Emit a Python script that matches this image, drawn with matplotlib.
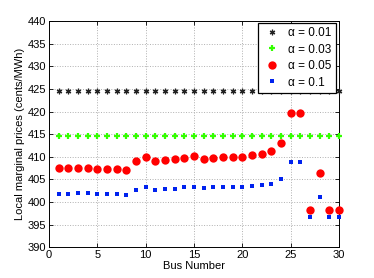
import matplotlib
matplotlib.use("Agg")
import matplotlib.pyplot as plt
import numpy as np

bus = list(range(1, 31))
a001 = [424.5] * 30
a003 = [414.6] * 30
a005 = [407.4, 407.4, 407.5, 407.5, 407.3, 407.3, 407.3, 407.1, 409.0, 409.9,
        409.0, 409.3, 409.4, 409.7, 410.1, 409.6, 409.8, 410.0, 410.0, 410.0,
        410.4, 410.6, 411.3, 413.0, 419.7, 419.7, 398.3, 406.3, 398.3, 398.3]
a01 = [401.8, 401.8, 401.9, 401.9, 401.8, 401.7, 401.8, 401.6, 402.7, 403.2,
       402.7, 402.9, 402.9, 403.2, 403.3, 403.0, 403.2, 403.2, 403.2, 403.2,
       403.5, 403.7, 404.0, 405.0, 408.8, 408.8, 396.6, 401.2, 396.6, 396.6]
labels = ["α = 0.01", "α = 0.03", "α = 0.05", "α = 0.1"]

plt.rcParams['font.family'] = ['Liberation Sans', 'DejaVu Sans']
plt.rcParams['font.size'] = 8

fig = plt.figure(figsize=(3.74, 2.78), dpi=100)
ax = fig.add_axes([0.131, 0.111, 0.775, 0.813])

ax.plot(bus, a001, linestyle='none', marker=(6, 2, 0), color='#222222',
        markersize=4, markeredgewidth=0.9, label=labels[0], clip_on=False, zorder=3)
ax.plot(bus, a003, linestyle='none', marker='+', color='#33ff00',
        markersize=5, markeredgewidth=1.6, label=labels[1], clip_on=False, zorder=3)
ax.plot(bus, a005, linestyle='none', marker='o', color='#ff0000',
        markersize=6, markeredgewidth=0, label=labels[2], clip_on=False, zorder=3)
ax.plot(bus, a01, linestyle='none', marker='s', color='#0022ee',
        markersize=3.5, markeredgewidth=0, label=labels[3], clip_on=False, zorder=3)

ax.set_xlim(0, 30)
ax.set_ylim(390, 440)
ax.set_xticks(np.arange(0, 31, 5))
ax.set_yticks(np.arange(390, 441, 5))
ax.grid(True, linestyle=':', color='#b0b0b0', linewidth=0.7)
ax.tick_params(direction='in', top=True, right=True, length=3, width=0.6, pad=2)
for s in ax.spines.values():
    s.set_linewidth(0.7)
ax.set_xlabel("Bus Number", labelpad=1)
ax.set_ylabel("Local marginal prices (cents/MWh)", labelpad=2)

leg = ax.legend(loc='upper right', bbox_to_anchor=(0.989, 0.992),
                fancybox=False, edgecolor='black',
                framealpha=1, borderaxespad=0.0, handlelength=1.6,
                handletextpad=0.6, labelspacing=0.38, borderpad=0.35,
                fontsize=8.5)
leg.get_frame().set_linewidth(0.9)
leg.set_zorder(5)

fig.savefig("out.png", dpi=100)
